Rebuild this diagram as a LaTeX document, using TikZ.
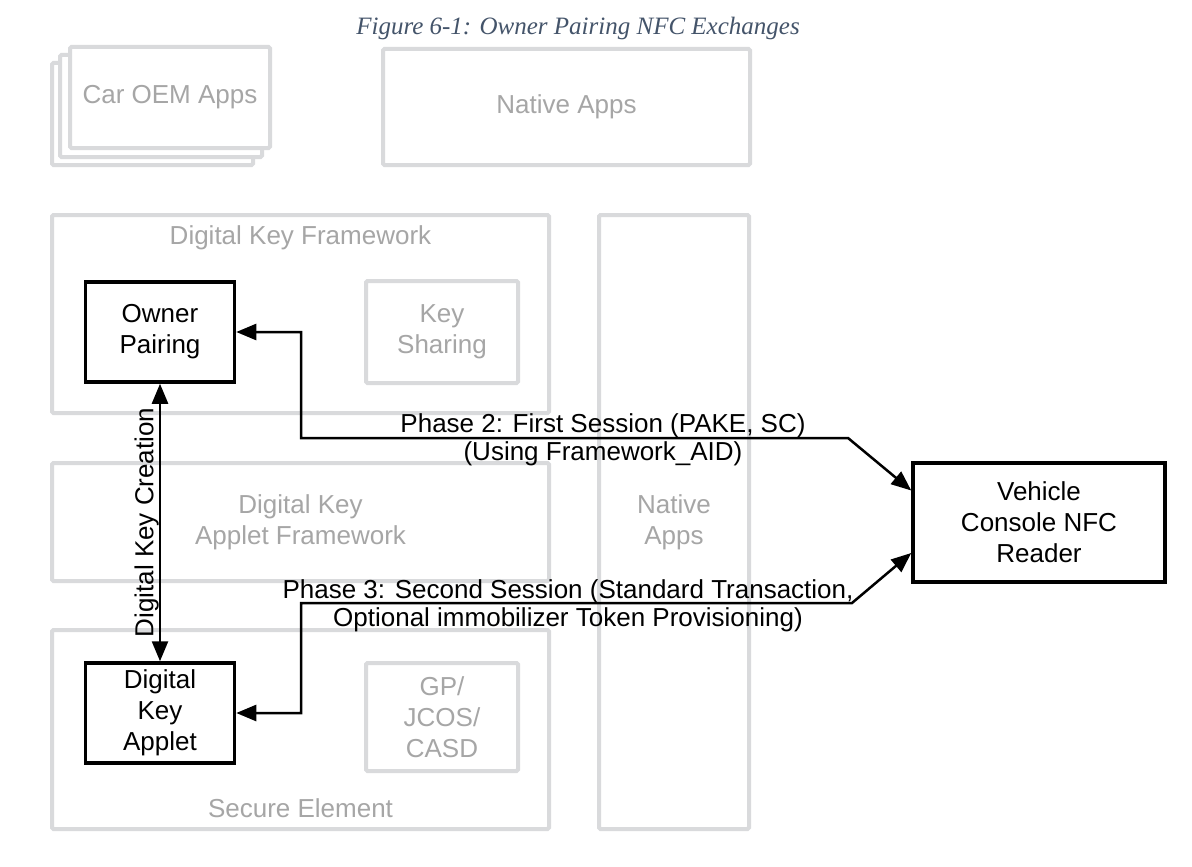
\documentclass[tikz,border=0pt]{standalone}
\usepackage{fontspec}
\setmainfont{Liberation Sans}
\newfontfamily\capfont{Liberation Serif}
\usetikzlibrary{positioning,calc,arrows.meta}
\definecolor{frame}{RGB}{217,218,220}
\definecolor{faded}{RGB}{166,166,166}
\definecolor{ink}{RGB}{0,0,0}
\definecolor{capblue}{RGB}{68,84,106}
\tikzset{
  graybox/.style={draw=frame, line width=4pt, rounded corners=1.5pt, fill=white, inner sep=0pt},
  fadedtext/.style={font=\fontsize{26}{31}\selectfont, text=faded, align=center, inner sep=0pt},
  keybox/.style={draw=ink, line width=3.5pt, fill=white, align=center, inner sep=0pt, font=\fontsize{26}{31}\selectfont},
  link/.style={<->, >={Triangle[length=20pt,width=16pt]}, line width=2.5pt, draw=ink},
  phase/.style={font=\fontsize{26}{28}\selectfont, align=center, inner sep=0pt},
  figcap/.style={font=\capfont\itshape\fontsize{25}{30}\selectfont, text=capblue},
}

\begin{document}
\begin{tikzpicture}[x=1pt,y=-1pt]
  \fill[white] (0,0) rectangle (1192,867);
  \useasboundingbox (0,0) rectangle (1192,867);

  % Caption
  \node[figcap] (cap) at (578,28) {Figure 6-1: Owner Pairing NFC Exchanges};

  % Application layer
  \node[graybox, minimum width=201pt, minimum height=102pt] (oemc) at (152.5,114) {};
  \node[graybox, minimum width=202pt, minimum height=102pt] (oemb) at (161,106) {};
  \node[graybox, fadedtext, minimum width=200pt, minimum height=101pt] (oema) at (170,97.5) {Car OEM Apps};
  \node[graybox, fadedtext, minimum width=367pt, minimum height=116pt] (natapps) at (566.5,107) {Native Apps};

  % Framework and secure element
  \node[graybox, minimum width=497pt, minimum height=198pt] (dkf) at (300.5,314) {};
  \node[fadedtext] (dkftxt) at ($(dkf.north)+(0,25)$) {Digital Key Framework};
  \node[graybox, fadedtext, minimum width=152pt, minimum height=102pt] (share) at (442,332) {Key\\Sharing};
  \node[graybox, fadedtext, minimum width=497pt, minimum height=118pt] (dkaf) at (300.5,522) {Digital Key\\Applet Framework};
  \node[graybox, minimum width=497pt, minimum height=199pt] (se) at (300.5,729.5) {};
  \node[fadedtext] (setxt) at ($(se.south)+(0,-23)$) {Secure Element};
  \node[graybox, fadedtext, minimum width=152pt, minimum height=108pt] (gp) at (442,717) {GP/\\JCOS/\\CASD};
  \node[graybox, fadedtext, minimum width=150pt, minimum height=614pt] (natcol) at (674,522) {Native\\Apps};

  % Active components
  \node[keybox, minimum width=149pt, minimum height=100pt] (owner) at (160,332) {Owner\\Pairing};
  \node[keybox, minimum width=149pt, minimum height=100pt] (applet) at (160,713) {Digital\\Key\\Applet};
  \node[keybox, minimum width=252pt, minimum height=119pt] (reader) at (1039,522.5) {Vehicle\\Console NFC\\Reader};

  % Exchanges
  \draw[link] (owner.south) -- (applet.north)
    node[midway, rotate=90, anchor=south, inner sep=0pt, font=\fontsize{26}{31}\selectfont] (dkc) {Digital Key Creation};

  \coordinate (p2up) at (301,438);
  \coordinate (p2bend) at (848,438);
  \draw[link] (owner.east) -| (p2up) -- (p2bend) -- ([yshift=32pt]reader.west);
  \node[phase] (ph2) at (603,440) {Phase 2: First Session (PAKE, SC)\\(Using Framework\_AID)};

  \coordinate (p3up) at (301,603);
  \coordinate (p3bend) at (852,603);
  \draw[link] (applet.east) -| (p3up) -- (p3bend) -- ([yshift=-30.5pt]reader.west);
  \node[phase] (ph3) at (568,606) {Phase 3: Second Session (Standard Transaction,\\Optional immobilizer Token Provisioning)};
\end{tikzpicture}
\end{document}
